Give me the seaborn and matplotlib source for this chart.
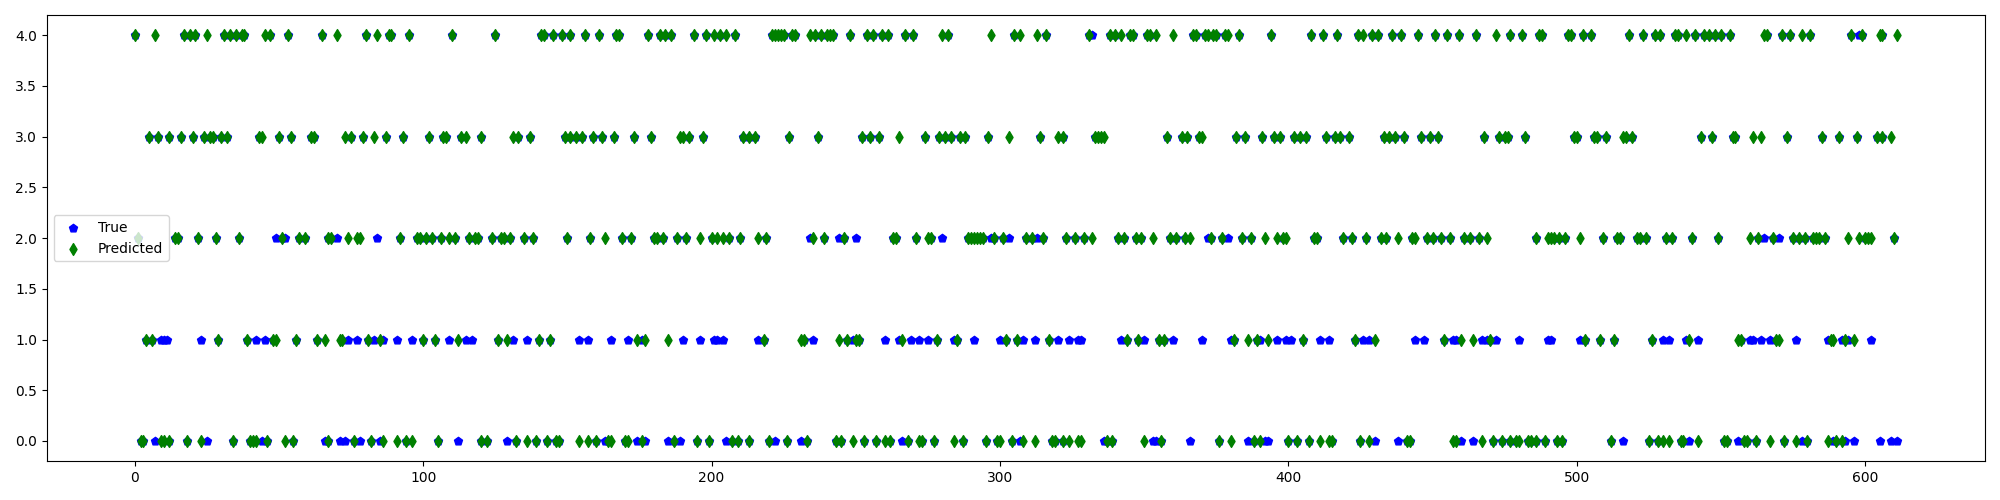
import matplotlib
matplotlib.use("Agg")
import matplotlib.pyplot as plt
import seaborn as sns
import pandas as pd

# Predicted class per sample index (green diamonds), grouped by class
pred_class_4 = [0, 7, 17, 19, 21, 25, 31, 33, 35, 37, 38, 45, 47, 53, 65, 70, 80, 84, 88, 89, 95, 110,
                125, 141, 142, 145, 148, 151, 156, 161, 167, 168, 178, 182, 184, 186, 194, 198, 201, 203,
                205, 208, 221, 222, 223, 224, 225, 228, 229, 234, 236, 238, 240, 241, 242, 248, 254, 256,
                259, 261, 267, 270, 280, 282, 297, 305, 307, 313, 316, 331, 338, 340, 342, 345, 346, 351,
                352, 354, 360, 367, 368, 371, 372, 374, 375, 378, 379, 383, 394, 408, 412, 417, 424, 426,
                429, 431, 436, 439, 445, 451, 455, 459, 465, 472, 477, 481, 487, 488, 497, 498, 502, 505,
                518, 523, 527, 529, 534, 535, 538, 541, 544, 546, 548, 550, 553, 565, 566, 571, 574, 578,
                581, 595, 599, 605, 606, 611]
pred_class_3 = [5, 8, 12, 16, 20, 24, 26, 27, 30, 32, 43, 44, 50, 54, 61, 62, 73, 75, 79, 83, 87, 93,
                102, 107, 108, 113, 115, 120, 131, 133, 137, 149, 151, 153, 155, 159, 162, 166, 173, 179,
                189, 190, 192, 197, 211, 213, 215, 227, 237, 252, 255, 258, 265, 274, 279, 281, 283, 286,
                288, 296, 303, 314, 320, 322, 333, 334, 335, 336, 358, 363, 365, 369, 370, 382, 385, 391,
                395, 397, 402, 404, 406, 413, 416, 418, 421, 433, 435, 437, 440, 446, 449, 452, 468, 473,
                475, 476, 482, 499, 500, 506, 507, 510, 516, 517, 519, 543, 547, 554, 555, 561, 564, 573,
                585, 591, 597, 604, 606, 609]
pred_class_2 = [1, 14, 15, 22, 28, 36, 51, 57, 59, 67, 68, 74, 77, 78, 92, 98, 99, 101, 103, 106, 109,
                111, 116, 118, 119, 124, 127, 128, 130, 135, 138, 150, 158, 163, 169, 172, 180, 181, 183,
                188, 191, 196, 200, 202, 204, 206, 210, 216, 219, 235, 239, 246, 263, 264, 271, 275, 276,
                289, 290, 291, 292, 293, 294, 298, 301, 309, 311, 315, 323, 326, 329, 332, 341, 343, 347,
                349, 353, 359, 361, 364, 366, 373, 377, 384, 387, 392, 396, 398, 399, 409, 410, 419, 422,
                427, 432, 434, 438, 443, 444, 448, 450, 453, 456, 461, 463, 466, 469, 486, 490, 491, 492,
                494, 496, 501, 509, 514, 515, 521, 522, 524, 531, 533, 540, 549, 560, 563, 568, 575, 577,
                579, 582, 583, 584, 586, 594, 598, 600, 601, 602, 610]
pred_class_1 = [4, 6, 29, 39, 48, 49, 56, 63, 66, 71, 72, 81, 85, 100, 104, 112, 126, 129, 140, 144,
                174, 177, 185, 218, 231, 232, 244, 247, 250, 251, 266, 278, 285, 302, 306, 317, 344, 348,
                355, 357, 381, 386, 389, 393, 405, 423, 430, 454, 460, 464, 470, 503, 508, 513, 526, 539,
                556, 557, 569, 570, 588, 589, 593, 596]
pred_class_0 = [2, 3, 9, 10, 12, 18, 23, 34, 40, 41, 42, 46, 52, 55, 67, 76, 82, 86, 91, 94, 96, 105,
                120, 122, 132, 136, 139, 143, 146, 147, 154, 157, 160, 164, 165, 170, 171, 176, 187, 195,
                199, 207, 209, 213, 220, 226, 233, 243, 245, 249, 253, 257, 260, 262, 268, 272, 273, 277,
                284, 287, 295, 299, 300, 304, 308, 312, 318, 319, 322, 324, 327, 328, 337, 339, 350, 356,
                376, 380, 388, 390, 400, 403, 407, 411, 414, 415, 425, 428, 441, 442, 457, 458, 467, 471,
                474, 477, 479, 480, 483, 484, 486, 489, 493, 495, 512, 525, 528, 530, 532, 536, 537, 542,
                551, 552, 558, 559, 562, 567, 572, 576, 580, 587, 590, 592]

# Samples whose true class differs from the prediction (blue pentagons left uncovered)
wrong_true_4 = [332, 598]
wrong_true_3 = []
wrong_true_2 = [49, 52, 70, 84, 234, 244, 250, 280, 297, 303, 313, 372, 379, 565, 570]
wrong_true_1 = [9, 10, 11, 23, 42, 45, 74, 77, 83, 86, 91, 96, 109, 115, 117, 131, 136, 154, 157, 165,
                171, 176, 190, 196, 201, 202, 204, 216, 235, 249, 260, 265, 269, 272, 275, 284, 291, 300,
                308, 312, 320, 324, 327, 328, 342, 350, 360, 370, 380, 390, 396, 399, 401, 411, 414, 426,
                428, 444, 447, 457, 458, 467, 469, 472, 480, 490, 491, 501, 530, 532, 538, 542, 560, 561,
                564, 567, 576, 587, 592, 594, 602]
wrong_true_0 = [7, 25, 44, 66, 71, 73, 78, 85, 112, 129, 163, 174, 177, 185, 189, 205, 222, 231, 266,
                307, 336, 353, 354, 366, 386, 392, 393, 430, 438, 460, 464, 516, 539, 556, 578, 589, 593,
                596, 605, 609, 611]

classes = [0, 1, 2, 3, 4]
pred_lists = [pred_class_0, pred_class_1, pred_class_2, pred_class_3, pred_class_4]
wrong_lists = [wrong_true_0, wrong_true_1, wrong_true_2, wrong_true_3, wrong_true_4]

wrong_all = set(i for lst in wrong_lists for i in lst)

true_rows, pred_rows = [], []
for c, p_idx, w_idx in zip(classes, pred_lists, wrong_lists):
    for i in p_idx:
        pred_rows.append((i, c))
        if i not in wrong_all:
            true_rows.append((i, c))
    for i in w_idx:
        true_rows.append((i, c))

df_true = pd.DataFrame(true_rows, columns=['idx', 'label']).sort_values('idx')
df_pred = pd.DataFrame(pred_rows, columns=['idx', 'label']).sort_values('idx')

fig, ax = plt.subplots(figsize=(20, 5), dpi=100)

sns.scatterplot(data=df_true, x='idx', y='label', marker='p', color='blue',
                edgecolor='blue', linewidth=1, s=36, label='True', ax=ax)
sns.scatterplot(data=df_pred, x='idx', y='label', marker='d', color='green',
                edgecolor='green', linewidth=1, s=36, label='Predicted', ax=ax)

ax.set_xlabel('')
ax.set_ylabel('')
ax.legend(loc='center left')
plt.tight_layout()
plt.savefig('out.png', dpi=100)
